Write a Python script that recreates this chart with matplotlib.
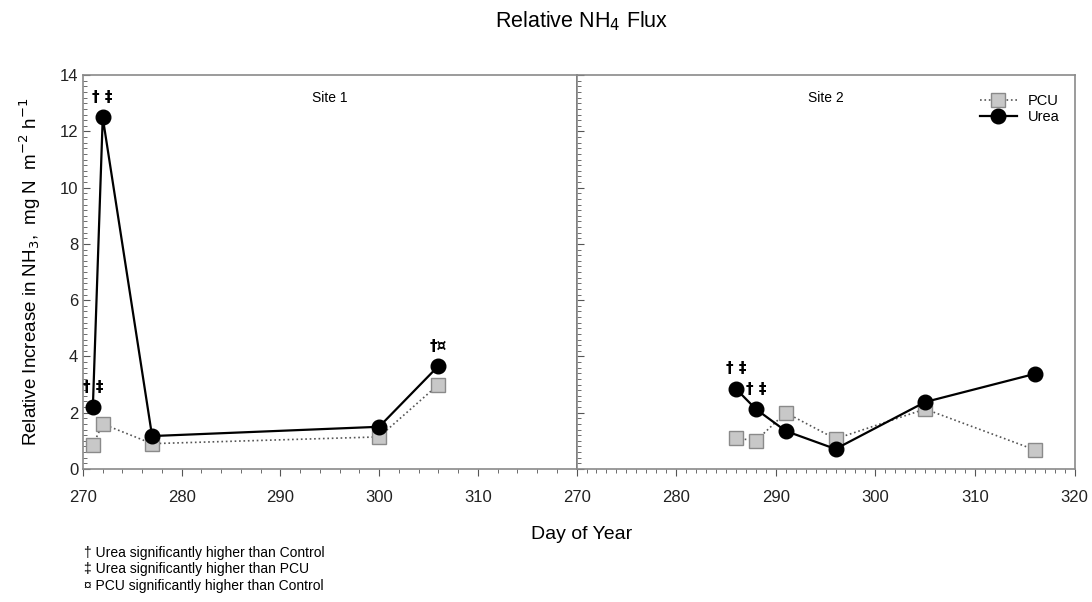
import matplotlib.pyplot as plt
from matplotlib.ticker import MultipleLocator

plt.rcParams['font.family'] = ['Liberation Sans', 'DejaVu Sans']

# Site 1
day1 = [271, 272, 277, 300, 306]
urea1 = [2.2, 12.5, 1.17, 1.5, 3.66]
pcu1 = [0.85, 1.6, 0.9, 1.14, 3.0]
marks1 = ['† ‡', '† ‡', '', '', '†¤']

# Site 2
day2 = [286, 288, 291, 296, 305, 316]
urea2 = [2.85, 2.13, 1.35, 0.71, 2.38, 3.38]
pcu2 = [1.1, 1.0, 2.0, 1.07, 2.13, 0.68]
marks2 = ['† ‡', '† ‡', '', '', '', '']

notes = ['† Urea significantly higher than Control',
         '‡ Urea significantly higher than PCU',
         '¤ PCU significantly higher than Control']

fig = plt.figure(figsize=(10.92, 6.02), dpi=100)
ax1 = fig.add_axes([0.076, 0.221, 0.452, 0.654])
ax2 = fig.add_axes([0.528, 0.221, 0.456, 0.654])

spine_col = '#8a8a8a'

def draw(ax, day, urea, pcu, marks, site, minor_x):
    p, = ax.plot(day, pcu, linestyle=':', color='#555555', lw=1.2,
                 marker='s', markersize=9.5, markerfacecolor='#c8c8c8',
                 markeredgecolor='#8a8a8a', label='PCU')
    u, = ax.plot(day, urea, linestyle='-', color='black', lw=1.6,
                 marker='o', markersize=10.5, markerfacecolor='black',
                 label='Urea')
    for x, y, m in zip(day, urea, marks):
        if m:
            ax.annotate(m, (x, y), xytext=(0, 9), textcoords='offset points',
                        ha='center', va='bottom', fontsize=11, fontweight='bold',
                        family=['DejaVu Sans'])
    ax.set_xlim(270, 320)
    ax.set_ylim(0, 14)
    ax.yaxis.set_major_locator(MultipleLocator(2))
    ax.yaxis.set_minor_locator(MultipleLocator(0.2))
    ax.xaxis.set_minor_locator(MultipleLocator(minor_x))
    ax.tick_params(axis='y', which='both', direction='in', colors='#555555',
                   labelcolor='#222222', labelsize=12)
    ax.tick_params(axis='y', which='major', length=5)
    ax.tick_params(axis='y', which='minor', length=3)
    ax.tick_params(axis='x', which='both', direction='out', colors='#555555',
                   labelcolor='#222222', labelsize=12, pad=10)
    ax.tick_params(axis='x', which='major', length=5)
    ax.tick_params(axis='x', which='minor', length=3)
    for s in ax.spines.values():
        s.set_color(spine_col)
        s.set_linewidth(1.2)
    ax.text(0.5, 0.96, site, transform=ax.transAxes, ha='center', va='top',
            fontsize=10)
    return p, u

draw(ax1, day1, urea1, pcu1, marks1, 'Site 1', 2)
p, u = draw(ax2, day2, urea2, pcu2, marks2, 'Site 2', 1)

ax1.set_xticks([270, 280, 290, 300, 310])
ax2.set_xticks([270, 280, 290, 300, 310, 320])
ax2.tick_params(axis='y', labelleft=False)
ax1.spines['right'].set_color('#333333')

ax1.set_ylabel('Relative Increase in NH$_3$,  mg N  m$^{-2}$ h$^{-1}$',
               fontsize=13.5, labelpad=12)

ax2.legend(handles=[p, u], loc='upper right', frameon=False, fontsize=10.5,
           handlelength=2.5, borderaxespad=0.6, labelspacing=0.15,
           bbox_to_anchor=(1.0, 0.99))

fig.text(0.533, 0.965, 'Relative NH$_4$ Flux', ha='center', va='center', fontsize=15.5)
fig.text(0.533, 0.112, 'Day of Year', ha='center', va='center', fontsize=14)
for i, t in enumerate(notes):
    fig.text(0.077, 0.082 - i * 0.028, t, ha='left', va='center', fontsize=10)

fig.savefig('out.png', dpi=100)
